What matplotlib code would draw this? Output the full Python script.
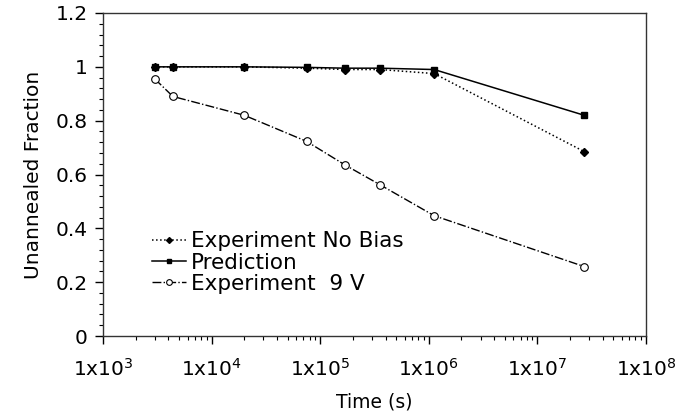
import numpy as np
import matplotlib
matplotlib.use("Agg")
import matplotlib.pyplot as plt
from matplotlib.ticker import FixedLocator, FixedFormatter, LogLocator, NullFormatter

plt.rcParams["font.family"] = ["DejaVu Sans"]
plt.rcParams["mathtext.fontset"] = "dejavusans"

# ── data ─────────────────────────────────────────────
time_s = [3.0e3, 4.4e3, 2.0e4, 7.5e4, 1.7e5, 3.55e5, 1.12e6, 2.7e7]
exp_no_bias = [1.0, 1.0, 1.0, 0.995, 0.99, 0.99, 0.975, 0.685]
prediction = [1.0, 1.0, 1.0, 0.998, 0.995, 0.995, 0.99, 0.82]
exp_9v = [0.955, 0.89, 0.82, 0.723, 0.635, 0.562, 0.447, 0.258]

x_ticks = [1e3, 1e4, 1e5, 1e6, 1e7, 1e8]
x_labels = ["1x10$^{3}$", "1x10$^{4}$", "1x10$^{5}$", "1x10$^{6}$", "1x10$^{7}$", "1x10$^{8}$"]
y_ticks = [0, 0.2, 0.4, 0.6, 0.8, 1.0, 1.2]
y_labels = ["0", "0.2", "0.4", "0.6", "0.8", "1", "1.2"]

fig = plt.figure(figsize=(6.89, 4.17), dpi=100)
ax = fig.add_axes([103 / 689, 1 - 336 / 417, 543 / 689, 323 / 417])

ax.plot(time_s, exp_no_bias, linestyle=":", color="black", lw=1.1,
        marker="D", markersize=4, label="Experiment No Bias")
ax.plot(time_s, prediction, linestyle="-", color="black", lw=1.1,
        marker="s", markersize=4.5, label="Prediction")
ax.plot(time_s, exp_9v, linestyle="-.", color="black", lw=1.0,
        marker="o", markersize=5.5, markerfacecolor="white", markeredgewidth=0.8,
        label="Experiment  9 V")

ax.set_xscale("log")
ax.set_xlim(1e3, 1e8)
ax.set_ylim(0, 1.2)

ax.xaxis.set_major_locator(FixedLocator(x_ticks))
ax.xaxis.set_major_formatter(FixedFormatter(x_labels))
ax.xaxis.set_minor_locator(LogLocator(base=10, subs=np.arange(2, 10)))
ax.xaxis.set_minor_formatter(NullFormatter())

ax.yaxis.set_major_locator(FixedLocator(y_ticks))
ax.yaxis.set_major_formatter(FixedFormatter(y_labels))
ax.yaxis.set_minor_locator(FixedLocator(np.arange(0, 1.21, 0.04)))

ax.tick_params(axis="both", which="major", direction="out", length=6, width=1.0,
               labelsize=14.5, pad=5)
ax.tick_params(axis="both", which="minor", direction="out", length=3, width=0.8)
ax.tick_params(axis="x", pad=10)

for sp in ax.spines.values():
    sp.set_linewidth(1.0)
    sp.set_color("#333333")

ax.set_xlabel("Time (s)", fontsize=13.5, labelpad=9)
ax.set_ylabel("Unannealed Fraction", fontsize=14.5, labelpad=9)

ax.legend(loc="lower left", bbox_to_anchor=(0.09, 0.13), frameon=False,
          fontsize=15.5, handlelength=1.6, handletextpad=0.2, labelspacing=0.06,
          borderaxespad=0, borderpad=0, markerscale=0.75)

fig.savefig("out.png", dpi=100)
